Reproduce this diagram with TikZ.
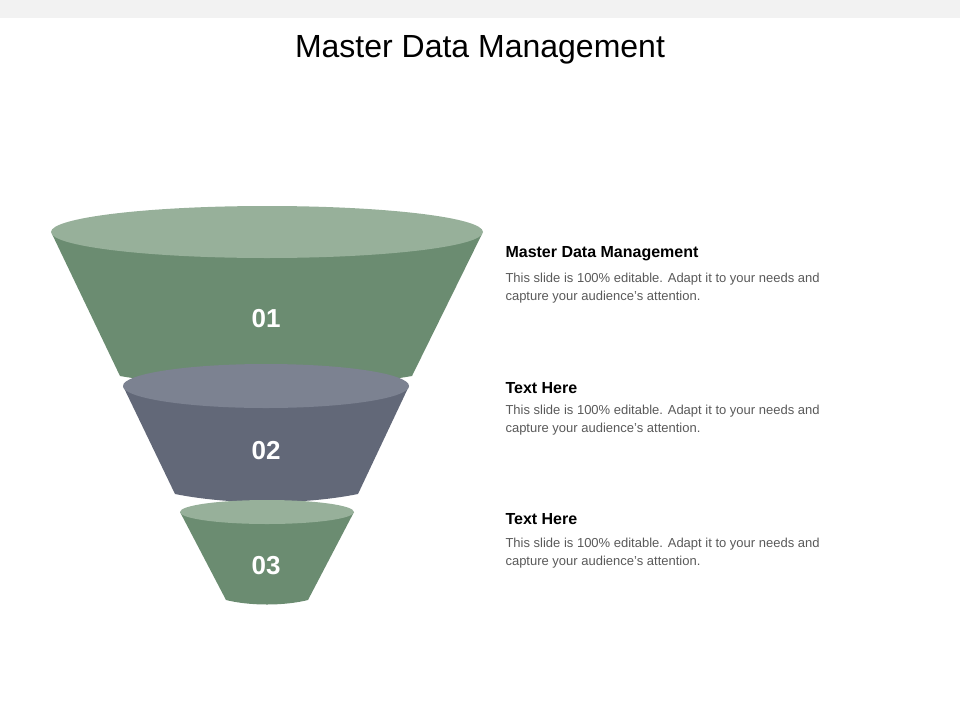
\documentclass[tikz,border=0pt]{standalone}
\usepackage{fontspec}
\setmainfont{Liberation Sans}
\definecolor{sagetop}{HTML}{97B09A}
\definecolor{sagebody}{HTML}{6B8C71}
\definecolor{slatetop}{HTML}{7C8291}
\definecolor{slatebody}{HTML}{626878}
\definecolor{bodytext}{HTML}{595959}
\tikzset{
  stagenum/.style={text=white,font=\fontsize{26}{30}\selectfont\bfseries},
  headtext/.style={anchor=west,font=\fontsize{16}{19}\selectfont\bfseries},
  desctext/.style={anchor=north west,align=left,text=bodytext,font=\fontsize{13}{18}\selectfont}
}
\begin{document}
\begin{tikzpicture}[x=1pt,y=-1pt]
    \useasboundingbox (0,0) rectangle (960,720);
    \fill[black!5] (0,0) rectangle (960,18);
    \node (title) at (480,50) {\fontsize{32}{38}\selectfont Master Data Management};

    % stage 1
    \fill[sagebody] (52,234) -- (120,376) .. controls (200,390) and (332,390) .. (412,376) -- (482,234) -- cycle;
    \fill[sagetop] (267,232) ellipse [x radius=216, y radius=26];
    \node[stagenum] (s1) at (266,319) {01};

    % stage 2
    \fill[slatebody] (123,386) -- (175,494) .. controls (230,505) and (303,505) .. (358,494) -- (409,386) -- cycle;
    \fill[slatetop] (266,386) ellipse [x radius=143, y radius=22];
    \node[stagenum] (s2) at (266,451) {02};

    % stage 3
    \fill[sagebody] (180,512) -- (226,600) .. controls (250,606) and (284,606) .. (308,600) -- (354,512) -- cycle;
    \fill[sagetop] (267,512) ellipse [x radius=87, y radius=12];
    \node[stagenum] (s3) at (266,566) {03};

    \node[headtext] (h1) at (502,254) {Master Data Management};
    \node[desctext] (d1) at (502,270) {This slide is 100\% editable. Adapt it to your needs and\\capture your audience's attention.};
    \node[headtext] (h2) at (502,388) {Text Here};
    \node[desctext] (d2) at (502,402) {This slide is 100\% editable. Adapt it to your needs and\\capture your audience's attention.};
    \node[headtext] (h3) at (502,519) {Text Here};
    \node[desctext] (d3) at (502,535) {This slide is 100\% editable. Adapt it to your needs and\\capture your audience's attention.};
\end{tikzpicture}
\end{document}
